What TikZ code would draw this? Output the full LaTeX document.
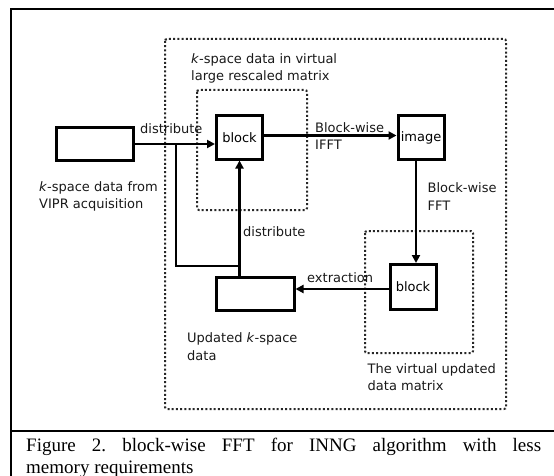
\documentclass[tikz,border=0pt]{standalone}
\usepackage{fontspec}
\setmainfont{Liberation Serif}
\newfontfamily\diafont{DejaVu Sans}
\usetikzlibrary{arrows.meta}

\tikzset{
  kasten/.style={draw, line width=3pt, inner sep=0pt,
    font=\diafont\fontsize{13}{17.5}\selectfont},
  pfeil/.style={line width=2.4pt, -{Triangle[length=8pt,width=8pt]}},
  linie/.style={line width=2.4pt},
  punkte/.style={draw=black!85, line width=2pt, dash pattern=on 2pt off 2.2pt,
    rounded corners=2pt},
  beschr/.style={anchor=west, align=left, inner sep=0pt, text=black!90,
    font=\diafont\fontsize{13}{17.5}\selectfont},
  rahmen/.style={line width=1.4pt}
}

\begin{document}
\begin{tikzpicture}[x=1pt,y=-1pt]
  \useasboundingbox (0,0) rectangle (554,476);

  % Rahmen
  \draw[rahmen] (11,476) -- (11,9) -- (554,9);
  \draw[rahmen] (11,431) -- (554,431);

  % gepunktete Bereiche
  \draw[punkte] (165,39) rectangle (506,409);
  \draw[punkte] (197,90) rectangle (307,210);
  \draw[punkte] (365,231) rectangle (473,353);

  % Kaesten
  \node[kasten, minimum width=77pt, minimum height=32pt] (quelle) at (95,144) {};
  \node[kasten, minimum width=46pt, minimum height=43pt] (blk1) at (239.5,137.5) {block};
  \node[kasten, minimum width=46pt, minimum height=43pt] (img) at (421,137.5) {image};
  \node[kasten, minimum width=46pt, minimum height=45pt] (blk2) at (413,287) {block};
  \node[kasten, minimum width=78pt, minimum height=33pt] (upd) at (255,293.5) {};

  % Pfeile
  \draw[pfeil] (quelle.east) -- (quelle.east -| blk1.west);
  \draw[pfeil] ([yshift=2pt]blk1.east) -- ([yshift=2pt]blk1.east -| img.west);
  \coordinate (fftab) at ([xshift=-5pt]img.south);
  \draw[pfeil] (fftab) -- (fftab |- blk2.north);
  \draw[pfeil] ([yshift=-2pt]blk2.west) -- ([yshift=-2pt]blk2.west -| upd.east);
  \draw[pfeil] (blk1.south |- upd.north) -- (blk1.south);
  \coordinate (abzw) at (176,144);
  \coordinate (knick) at (176,266);
  \draw[linie] (abzw) -- (knick) -- (knick -| blk1.south);

  % Beschriftungen
  \node[beschr] (lquelle) at (39,196.5) {\textit{k}-space data from\\VIPR acquisition};
  \node[beschr] (lmatrix) at (191,68.5) {\textit{k}-space data in virtual\\large rescaled matrix};
  \node[beschr] (lvert1) at (140,129) {distribute};
  \node[beschr] (lifft) at (315,136) {Block-wise\\IFFT};
  \node[beschr] (lfft) at (427.5,196.5) {Block-wise\\FFT};
  \node[beschr] (lvert2) at (243,232) {distribute};
  \node[beschr] (lextr) at (307,278) {extraction};
  \node[beschr] (lupd) at (187,346.5) {Updated \textit{k}-space\\data};
  \node[beschr] (lneu) at (367.5,377) {The virtual updated\\data matrix};

  % Bildunterschrift
  \node[anchor=base west, text width=515pt, align=justify, inner sep=0pt,
    font=\fontsize{19}{22}\selectfont\frenchspacing] (titel) at (26,451)
    {Figure 2. block-wise FFT for INNG algorithm with less\linebreak memory requirements};
\end{tikzpicture}
\end{document}
